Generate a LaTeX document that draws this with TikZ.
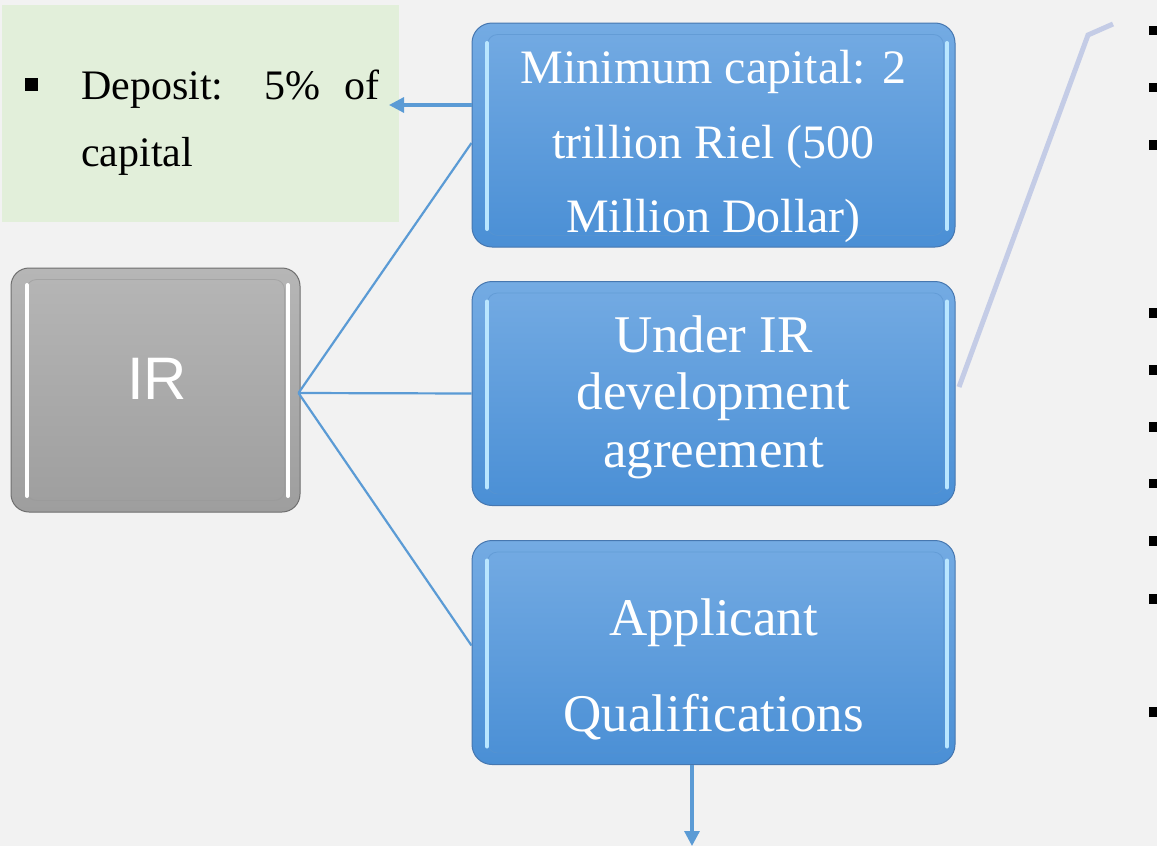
\documentclass[tikz,border=0pt]{standalone}
\usepackage{fontspec}
\setmainfont{Liberation Serif}
\newfontfamily\arialfont{Liberation Sans}
\usetikzlibrary{arrows.meta}
\definecolor{bgc}{HTML}{F2F2F2}
\definecolor{greenbg}{HTML}{E2EFDA}
\definecolor{bluetop}{HTML}{74ABE3}
\definecolor{bluebot}{HTML}{4A8FD5}
\definecolor{blueedge}{HTML}{4677B0}
\definecolor{bluehi}{HTML}{B9E6FF}
\definecolor{blueinner}{HTML}{5A94CF}
\definecolor{graytop}{HTML}{B6B6B6}
\definecolor{graybot}{HTML}{9E9E9E}
\definecolor{grayedge}{HTML}{6F6F6F}
\definecolor{grayinner}{HTML}{999999}
\definecolor{linkc}{HTML}{5B9BD5}
\definecolor{bracec}{HTML}{C4CCE6}
\hbadness=10000
\tolerance=10000
\begin{document}
\begin{tikzpicture}[x=1pt,y=-1pt,
  bluebox/.style={rounded corners=20pt, top color=bluetop, bottom color=bluebot,
    draw=blueedge, line width=1pt, minimum width=483pt, minimum height=224pt, inner sep=0pt},
  graybox/.style={rounded corners=18pt, top color=graytop, bottom color=graybot,
    draw=grayedge, line width=1pt, minimum width=289pt, minimum height=244pt, inner sep=0pt},
  boxtext/.style={text=white, align=center, inner sep=0pt},
  hilite/.style={line width=4pt, line cap=round},
  innerrim/.style={rounded corners=10pt, line width=0.8pt, opacity=0.6},
  link/.style={draw=linkc, line width=2.2pt},
  arrowlink/.style={draw=linkc, line width=3.2pt, -{Triangle[length=15pt,width=15pt]}},
  sqbullet/.style={fill=black, inner sep=0pt, minimum size=#1},
]
\useasboundingbox[fill=bgc] (0,0) rectangle (1157,846);

% green deposit box
\node[fill=greenbg, minimum width=397pt, minimum height=217pt, inner sep=0pt] (green) at (200.5,113.5) {};
\node[sqbullet=12.5pt] (gbul) at (31.5,84.5) {};
\node[anchor=north west, text width=298pt, align=justify, inner sep=0pt,
      font=\fontsize{42}{67}\selectfont] (greentext) at (81,70) {Deposit: 5\% of capital};

% IR box
\node[graybox] (IR) at (155.5,390) {};
\draw[grayinner, innerrim] (IR.north west) ++(16,12) rectangle ([xshift=-16pt,yshift=12pt]IR.south east);
\draw[white, hilite] (27,285) -- (27,496);
\draw[white, hilite] (288,285) -- (288,496);
\node[text=white, font=\arialfont\fontsize{60}{60}\selectfont, inner sep=0pt] (IRtext) at (157,379) {IR};

% blue boxes
\node[bluebox] (b1) at (713.5,135) {};
\node[bluebox] (b2) at (713.5,393.5) {};
\node[bluebox] (b3) at (713.5,652.5) {};
\foreach \bx in {b1,b2,b3}{
  \draw[blueinner, innerrim] (\bx.north west) ++(16,12) rectangle ([xshift=-12pt,yshift=12pt]\bx.south east);
}
\foreach \yc in {135,393.5,652.5}{
  \draw[bluehi, hilite] (487,\yc-92) -- (487,\yc+94);
  \draw[bluehi, hilite] (947,\yc-92) -- (947,\yc+94);
}
\node[boxtext, font=\fontsize{48}{74.5}\selectfont] (t1) at (713.5,146.5)
  {Minimum capital: 2\\trillion Riel (500\\Million Dollar)};
\node[boxtext, font=\fontsize{53}{57.5}\selectfont] (t2) at (713.5,397)
  {Under IR\\development\\agreement};
\node[boxtext, font=\fontsize{53}{96}\selectfont] (t3) at (713.5,669.5)
  {Applicant\\Qualifications};

% connectors
\coordinate (irpt) at ([yshift=-3pt,xshift=-2pt]IR.east);
\draw[link] (irpt) -- ([yshift=-8pt]b1.west);
\draw[link] (irpt) -- (b2.west);
\draw[link] (irpt) -- ([yshift=7pt]b3.west);
\coordinate (deptip) at (389,105);
\draw[arrowlink] ([yshift=30pt]b1.west) -- (deptip);
\coordinate (downtip) at (692,846);
\draw[arrowlink] ([xshift=-21.5pt]b3.south) -- (downtip);

% brace line
\coordinate (br1) at (959,387);
\coordinate (br2) at (1088,35);
\coordinate (br3) at (1113,24);
\draw[bracec, line width=5pt] (br1) -- (br2) -- (br3);

% right bullets (cut off at the edge)
\foreach \yy [count=\i] in {30.5,87.5,145,313,370,427,483.5,541,599,712}{
  \node[sqbullet=9.5pt] (rb\i) at (1154,\yy) {};
}
\end{tikzpicture}
\end{document}
